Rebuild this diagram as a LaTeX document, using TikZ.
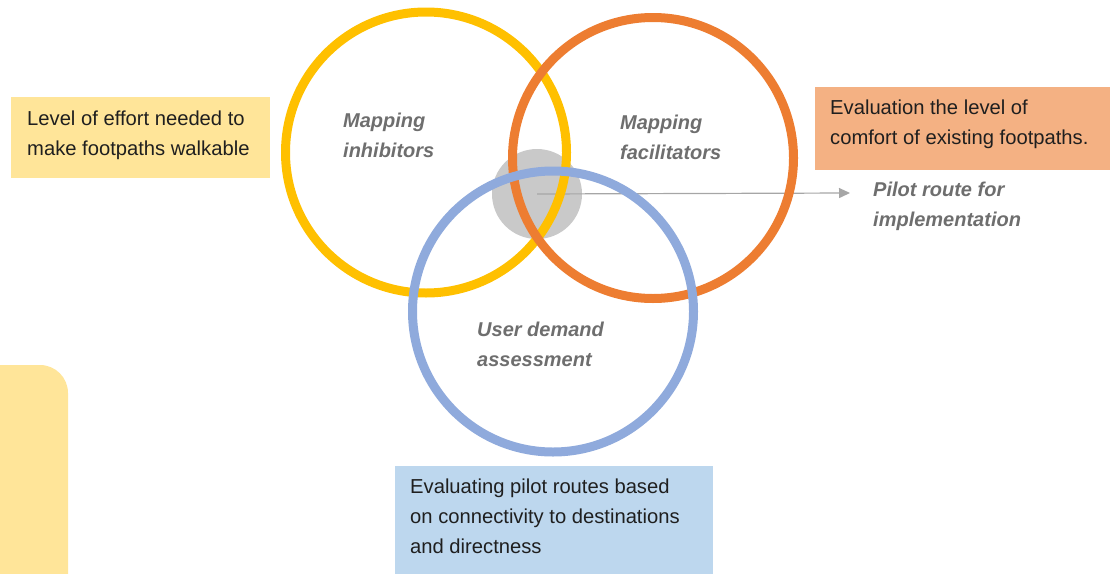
\documentclass[tikz,border=0pt]{standalone}
\usepackage{fontspec}
\setmainfont{Liberation Sans}
\usetikzlibrary{arrows.meta}

\definecolor{ringyellow}{HTML}{FFC000}
\definecolor{ringorange}{HTML}{ED7D31}
\definecolor{ringblue}{HTML}{8FAADC}
\definecolor{paleyellow}{HTML}{FFE599}
\definecolor{paleorange}{HTML}{F4B183}
\definecolor{paleblue}{HTML}{BDD7EE}
\definecolor{tagtext}{HTML}{6E6E6E}
\definecolor{overlap}{HTML}{C9C9C9}

\begin{document}
\begin{tikzpicture}[x=1pt, y=-1pt,
    ring/.style={circle, draw, line width=9pt, minimum size=281pt, inner sep=0pt},
    panel/.style={rectangle, anchor=north west, inner sep=0pt},
    note/.style={anchor=west, align=left, inner sep=0pt, text=black!88, font=\fontsize{20.2}{30}\selectfont},
    tag/.style={anchor=west, align=left, inner sep=0pt, text=tagtext, font=\fontsize{20}{30}\selectfont\bfseries\itshape}]

    \useasboundingbox (0,0) rectangle (1113,573);

    % side tab on the left
    \fill[paleyellow, rounded corners=28pt] (-40,365) rectangle (68,620);

    % text panels
    \node[panel, fill=paleyellow, minimum width=259pt, minimum height=81pt] (effortbox) at (11,97) {};
    \node[panel, fill=paleorange, minimum width=295pt, minimum height=83pt] (comfortbox) at (815,87) {};
    \node[panel, fill=paleblue, minimum width=318pt, minimum height=115pt] (routebox) at (395,466) {};

    \node[note] (effort) at (27,135) {Level of effort needed to\\make footpaths walkable};
    \node[note] (comfort) at (830,124) {Evaluation the level of\\comfort of existing footpaths.};
    \node[note] (route) at (410,516) {Evaluating pilot routes based\\on connectivity to destinations\\and directness};

    % overlap and arrow out to the pilot route
    \node[circle, fill=overlap, minimum size=90pt, inner sep=0pt] (blob) at (537,194) {};
    \coordinate (pilottip) at (850,193);
    \draw[black!35, line width=1.2pt, -{Triangle[length=11pt, width=10pt]}] (blob.center) -- (pilottip);

    % the three rings
    \node[ring, draw=ringyellow] (inhib) at (426,152.5) {};
    \node[ring, draw=ringorange] (facil) at (653,158) {};
    \node[ring, draw=ringblue] (demand) at (553,311.5) {};

    \node[tag] (inhiblbl) at (343,135) {Mapping\\inhibitors};
    \node[tag] (faciliblbl) at (620,137) {Mapping\\facilitators};
    \node[tag] (demandlbl) at (477,344) {User demand\\assessment};
    \node[tag] (pilot) at (873,206) {Pilot route for\\implementation};
\end{tikzpicture}
\end{document}
